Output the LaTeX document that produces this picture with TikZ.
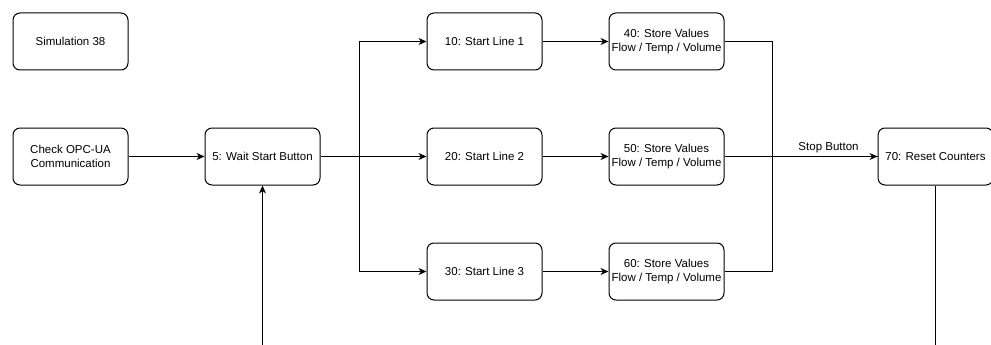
\documentclass[tikz,border=0pt]{standalone}
\usepackage{fontspec}
\setmainfont{Liberation Sans}
\usetikzlibrary{arrows.meta}
\begin{document}
\begin{tikzpicture}[x=1pt,y=-1pt,
  box/.style={draw,line width=1pt,rounded corners=7pt,minimum width=115pt,minimum height=57pt,inner sep=1pt,align=center,font=\fontsize{11.5}{13.5}\selectfont},
  conn/.style={line width=1pt},
  arr/.style={line width=1pt,-{Stealth[length=8pt,width=7pt,inset=2.5pt]}}]
\useasboundingbox (0,0) rectangle (991,345);
\node[box] (sim) at (70.5,41.5) {Simulation 38};
\node[box] (opc) at (70.5,156.5) {Check OPC-UA\\Communication};
\node[box] (wait) at (262.5,156.5) {5: Wait Start Button};
\node[box] (l1) at (484.5,41.5) {10: Start Line 1};
\node[box] (l2) at (484.5,156.5) {20: Start Line 2};
\node[box] (l3) at (484.5,271.5) {30: Start Line 3};
\node[box] (s1) at (666.5,41.5) {40: Store Values\\Flow / Temp / Volume};
\node[box] (s2) at (666.5,156.5) {50: Store Values\\Flow / Temp / Volume};
\node[box] (s3) at (666.5,271.5) {60: Store Values\\Flow / Temp / Volume};
\node[box] (reset) at (935.5,156.5) {70: Reset Counters};
\coordinate (inbot) at (262.5,345);
\coordinate (outbot) at (935.5,345);
\draw[arr] (opc) -- (wait);
\draw[arr] (wait.east) -- ++(39,0) |- (l1.west);
\draw[arr] (wait.east) -- (l2.west);
\draw[arr] (wait.east) -- ++(39,0) |- (l3.west);
\draw[arr] (l1) -- (s1);
\draw[arr] (l2) -- (s2);
\draw[arr] (l3) -- (s3);
\draw[conn] (s1.east) -- ++(48,0) |- (reset.west);
\draw[conn] (s3.east) -- ++(48,0) |- (reset.west);
\draw[arr] (s2) -- node[above,pos=0.68,font=\fontsize{11.5}{13.5}\selectfont,inner sep=3pt]{Stop Button} (reset);
\draw[conn] (reset.south) -- (outbot);
\draw[arr] (inbot) -- (wait.south);
\end{tikzpicture}
\end{document}
